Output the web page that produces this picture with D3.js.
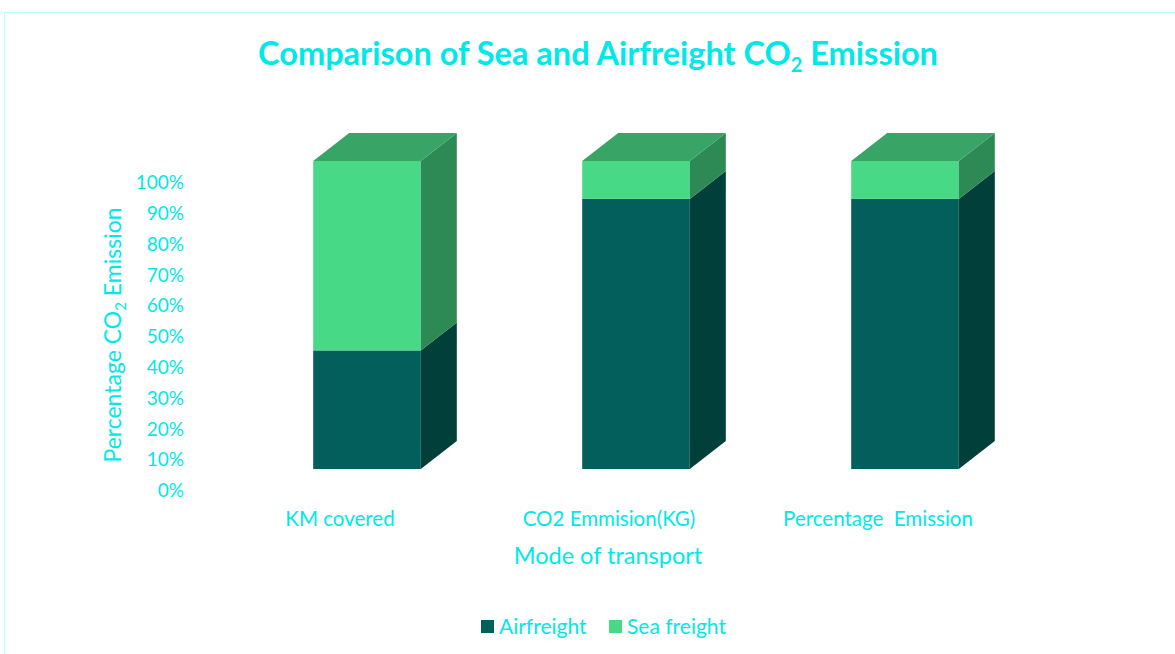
<!DOCTYPE html>
<html lang="en">

<head>
    <script src="https://d3js.org/d3.v7.min.js"></script>
    <style>
        body {
            margin: 0;
            background: white;
        }

        text {
            font-family: Lato, "Open Sans", sans-serif;
            fill: #00e8e8;
        }
    </style>
</head>

<body>
    <svg id="chart" width="1175" height="654"></svg>

    <script>
        // data
        const categories = ["KM covered", "CO2 Emmision(KG)", "Percentage  Emission"];
        const seriesNames = ["Airfreight", "Sea freight"];
        const airfreight = [0.385, 0.877, 0.877];
        const seaFreight = [0.615, 0.123, 0.123];
        const yTicks = [0, 0.1, 0.2, 0.3, 0.4, 0.5, 0.6, 0.7, 0.8, 0.9, 1.0];

        const svg = d3.select("svg#chart");

        // colours: front, side, top
        const colors = {
            "Airfreight": { front: "#025f5b", side: "#013f3b", top: "#027a74" },
            "Sea freight": { front: "#48d986", side: "#2e8a55", top: "#38a466" }
        };

        // 3d depth of the bars
        const depthX = 36;
        const depthY = -28;
        const shift = 21; // bars sit a bit above the axis in the perspective

        // frame
        svg.append("rect")
            .attr("x", 4.5).attr("y", 12.5)
            .attr("width", 1180).attr("height", 660)
            .attr("fill", "none")
            .attr("stroke", "#b8ffff")
            .attr("stroke-width", 1);

        const y = d3.scaleLinear().domain([0, 1]).range([490, 182]);
        const x = d3.scaleBand()
            .domain(categories)
            .range([232.5, 1039.5])
            .paddingInner(0.6)
            .paddingOuter(0.3);

        // title
        const title = svg.append("text")
            .attr("x", 598)
            .attr("y", 65)
            .attr("text-anchor", "middle")
            .style("font-size", "32.5px")
            .style("font-weight", "bold");
        title.append("tspan").text("Comparison of Sea and Airfreight CO");
        title.append("tspan").text("2").attr("dy", 7).style("font-size", "20px");
        title.append("tspan").text(" Emission").attr("dy", -7);

        // y axis
        const yAxis = svg.append("g")
            .attr("transform", "translate(184,0)")
            .call(d3.axisLeft(y).tickValues(yTicks).tickFormat(d3.format(".0%")).tickSize(0).tickPadding(0));
        yAxis.select(".domain").remove();
        yAxis.selectAll("text")
            .attr("fill", null)
            .attr("dy", "0.35em")
            .style("font-size", "19px")
            .style("font-family", "Lato, sans-serif");

        const yTitle = svg.append("text")
            .attr("transform", "translate(121,335) rotate(-90)")
            .attr("text-anchor", "middle")
            .style("font-size", "23px");
        yTitle.append("tspan").text("Percentage CO");
        yTitle.append("tspan").text("2").attr("dy", 5).style("font-size", "15px");
        yTitle.append("tspan").text(" Emission").attr("dy", -5);

        // stacked 3d bars
        const rows = categories.map((c, i) => ({ cat: c, "Airfreight": airfreight[i], "Sea freight": seaFreight[i] }));
        const stack = d3.stack().keys(seriesNames)(rows);

        const bars = svg.append("g");
        stack.forEach((layer, li) => {
            const col = colors[layer.key];
            layer.forEach(d => {
                const x0 = x(d.data.cat);
                const x1 = x0 + x.bandwidth();
                const yT = y(d[1]) - shift;
                const yB = y(d[0]) - shift;
                bars.append("rect")
                    .attr("x", x0).attr("y", yT)
                    .attr("width", x.bandwidth()).attr("height", yB - yT)
                    .attr("fill", col.front);
                bars.append("path")
                    .attr("d", `M${x1},${yT}L${x1 + depthX},${yT + depthY}L${x1 + depthX},${yB + depthY}L${x1},${yB}Z`)
                    .attr("fill", col.side);
                if (li === stack.length - 1) {
                    bars.append("path")
                        .attr("d", `M${x0},${yT}L${x0 + depthX},${yT + depthY}L${x1 + depthX},${yT + depthY}L${x1},${yT}Z`)
                        .attr("fill", col.top);
                }
            });
        });

        // category labels
        svg.selectAll("text.cat")
            .data(categories)
            .join("text")
            .attr("class", "cat")
            .attr("x", d => x(d) + x.bandwidth() / 2 - 27)
            .attr("y", 526)
            .attr("text-anchor", "middle")
            .style("font-size", "20.5px")
            .style("white-space", "pre")
            .text(d => d);

        svg.append("text")
            .attr("x", 608)
            .attr("y", 564)
            .attr("text-anchor", "middle")
            .style("font-size", "23.5px")
            .text("Mode of transport");

        // legend
        const legendX = [481, 609];
        const legend = svg.selectAll("g.legend")
            .data(seriesNames)
            .join("g")
            .attr("class", "legend")
            .attr("transform", (d, i) => `translate(${legendX[i]},620)`);
        legend.append("rect")
            .attr("width", 13).attr("height", 13)
            .attr("fill", d => colors[d].front);
        legend.append("text")
            .attr("x", 18).attr("y", 14)
            .style("font-size", "21px")
            .text(d => d);
    </script>
</body>

</html>
